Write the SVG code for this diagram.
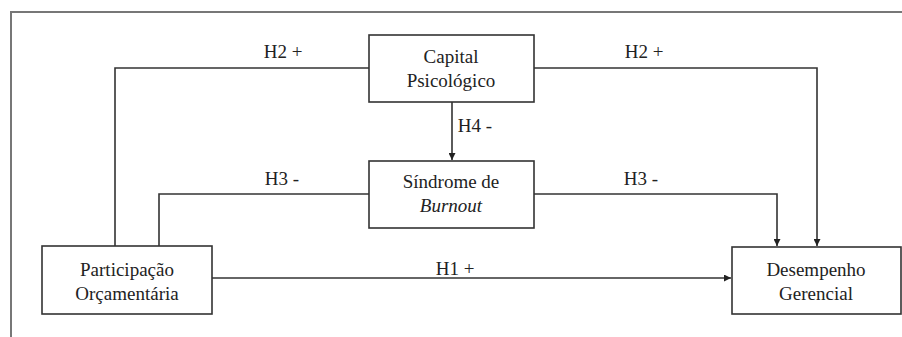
<svg xmlns="http://www.w3.org/2000/svg" width="902" height="337" viewBox="0 0 902 337">
<style>
.box{fill:#fff;stroke:#333;stroke-width:1.6}
.t{font-family:'Liberation Serif','Times New Roman','DejaVu Serif',Times,serif;font-size:19px;fill:#222;text-anchor:middle}
.c{fill:none;stroke:#333;stroke-width:1.6}
.frame{fill:none;stroke:#777;stroke-width:2}
</style>
<defs>
<marker id="ah" viewBox="0 0 10 10" refX="10" refY="5" markerWidth="7" markerHeight="7" markerUnits="userSpaceOnUse" orient="auto">
<path d="M0,0 L10,5 L0,10 z" fill="#222"/>
</marker>
</defs>
<rect width="902" height="337" fill="#fff"/>
<path class="frame" d="M11,337 V12 H902"/>
<g id="connectors">
<path class="c" d="M369,68 H115 V246"/>
<path class="c" d="M534,68 H817 V246" marker-end="url(#ah)"/>
<path class="c" d="M452,102 V160" marker-end="url(#ah)"/>
<path class="c" d="M369,194 H159 V246"/>
<path class="c" d="M534,194 H777 V246" marker-end="url(#ah)"/>
<path class="c" d="M212,278 H731" marker-end="url(#ah)"/>
<text class="t" x="283" y="58">H2 +</text>
<text class="t" x="644" y="58">H2 +</text>
<text class="t" x="475" y="132">H4 -</text>
<text class="t" x="282" y="185">H3 -</text>
<text class="t" x="641" y="185">H3 -</text>
<text class="t" x="455" y="275">H1 +</text>
</g>
<g id="capital">
<rect class="box" x="369" y="35" width="165" height="67"/>
<text class="t" x="451" y="63">Capital</text>
<text class="t" x="451" y="87">Psicológico</text>
</g>
<g id="sindrome">
<rect class="box" x="369" y="161" width="165" height="67"/>
<text class="t" x="451" y="188">Síndrome de</text>
<text class="t" x="451" y="212" font-style="italic">Burnout</text>
</g>
<g id="participacao">
<rect class="box" x="42" y="246" width="170" height="68"/>
<text class="t" x="127" y="276">Participação</text>
<text class="t" x="127" y="300">Orçamentária</text>
</g>
<g id="desempenho">
<rect class="box" x="732" y="247" width="169" height="67"/>
<text class="t" x="816" y="276">Desempenho</text>
<text class="t" x="816" y="300">Gerencial</text>
</g>
</svg>
